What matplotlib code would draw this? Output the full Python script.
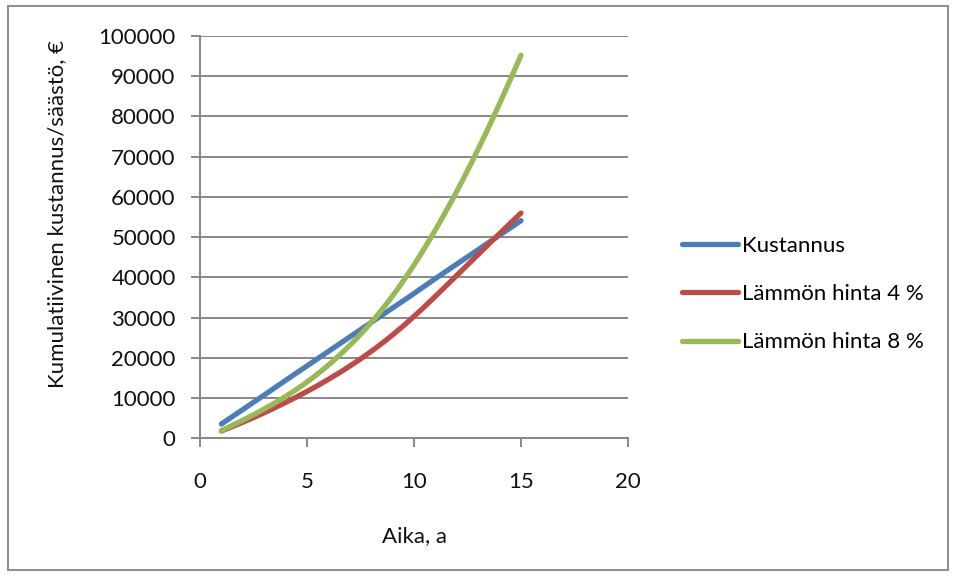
import matplotlib
matplotlib.use('Agg')
import matplotlib.pyplot as plt
import numpy as np
from matplotlib.patches import Rectangle, PathPatch
from matplotlib.path import Path
from matplotlib.lines import Line2D

# vuodet ja kumulatiiviset arvot (luettu kuvasta)
years = list(range(1, 16))
kustannus = [3550, 7150, 10750, 14400, 18000, 21600, 25200, 28800,
             32400, 36000, 39700, 43300, 46900, 50500, 54100]
hinta_4 = [1800, 4000, 6350, 8900, 11650, 14650, 17950, 21600,
           25700, 30300, 35300, 40500, 45700, 50900, 56000]
hinta_8 = [1900, 4500, 7300, 10400, 14000, 18200, 23100, 28800,
           35400, 43100, 51800, 61400, 71900, 83200, 95200]

series = [
    ("Kustannus", kustannus, '#4A7EBB'),
    ("Lämmön hinta 4 %", hinta_4, '#BE4B48'),
    ("Lämmön hinta 8 %", hinta_8, '#98B954'),
]


def smooth_path(xs, ys):
    # Excelin "pehmennetty viiva": Bezier-kaaret datapisteiden kautta
    pts = np.column_stack([xs, ys]).astype(float)
    n = len(pts)
    verts = [pts[0]]
    codes = [Path.MOVETO]
    for i in range(n - 1):
        p0 = pts[i - 1] if i > 0 else pts[i]
        p1, p2 = pts[i], pts[i + 1]
        p3 = pts[i + 2] if i + 2 < n else pts[i + 1]
        verts += [p1 + (p2 - p0) / 6, p2 - (p3 - p1) / 6, p2]
        codes += [Path.CURVE4] * 3
    return Path(verts, codes)


plt.rcParams['font.family'] = ['Lato', 'DejaVu Sans']
W, H = 957, 578
fig = plt.figure(figsize=(W / 100, H / 100), dpi=100)
ax = fig.add_axes([200 / W, 1 - 438.3 / H, 428 / W, 402.3 / H])

grid_c = '#878787'
lw = 3.8
handles = []
for name, vals, col in series:
    ax.add_patch(PathPatch(smooth_path(years, vals), facecolor='none',
                           edgecolor=col, lw=lw, capstyle='round',
                           joinstyle='round', zorder=3))
    handles.append(Line2D([], [], color=col, lw=lw,
                          solid_capstyle='round', label=name))

ax.set_xlim(0, 20)
ax.set_ylim(0, 100000)
ax.set_xticks([0, 5, 10, 15, 20])
ax.set_yticks(range(0, 100001, 10000))
ax.yaxis.grid(True, color=grid_c, lw=1.4)
ax.set_axisbelow(True)

for s in ['top', 'right']:
    ax.spines[s].set_visible(False)
for s in ['left', 'bottom']:
    ax.spines[s].set_color(grid_c)
    ax.spines[s].set_linewidth(1.4)

ax.tick_params(axis='both', direction='out', color=grid_c, width=1.4,
               length=6.5, labelsize=16, labelcolor='#111111')
ax.tick_params(axis='y', pad=11)
ax.tick_params(axis='x', pad=18)
ax.set_xlabel('Aika, a', fontsize=16, color='#111111', labelpad=24)

fig.text(57 / W, 1 - 214 / H, 'Kumulatiivinen kustannus/säästö, €',
         rotation=90, ha='center', va='center', fontsize=16, color='#111111')

ax.legend(handles=handles, loc='upper left',
          bbox_to_anchor=(682 / W, 1 - 236 / H),
          bbox_transform=fig.transFigure, frameon=False, fontsize=16,
          handlelength=2.5, handletextpad=0.2, labelspacing=1.27,
          borderpad=0, borderaxespad=0)

# kaavion reunus
fig.patches.append(Rectangle((8 / W, 8 / H), 940 / W, 564 / H,
                             transform=fig.transFigure, fill=False,
                             edgecolor='#8c8c8c', lw=1.4))

fig.savefig('out.png', dpi=100)
